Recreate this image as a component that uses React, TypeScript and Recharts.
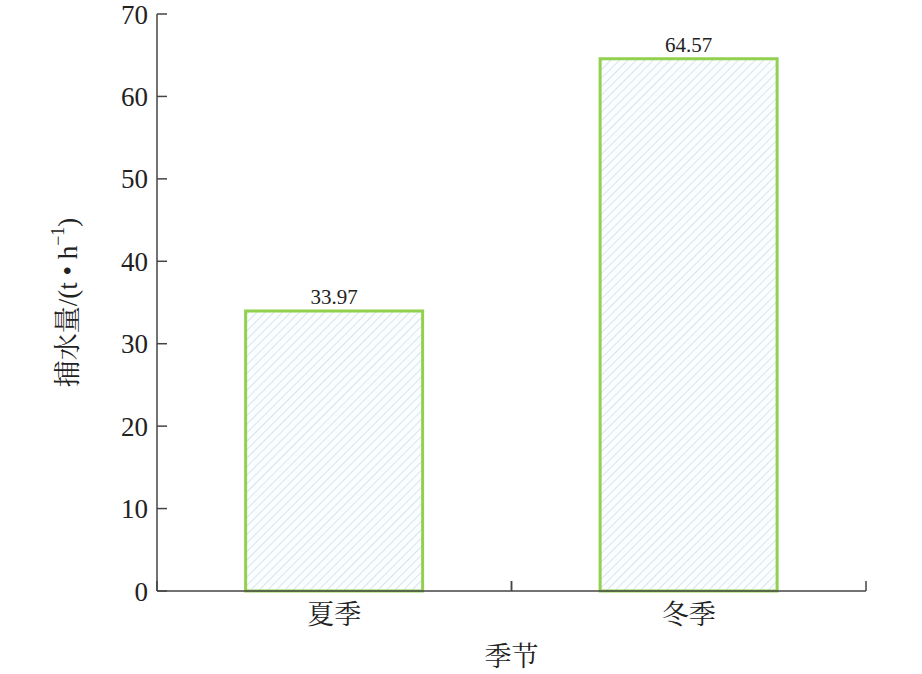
import React from "react";
import {
  BarChart,
  Bar,
  XAxis,
  YAxis,
  LabelList,
} from "recharts";

const seasons = ["夏季", "冬季"];
const intake = [33.97, 64.57];
const yTicks = [0, 10, 20, 30, 40, 50, 60, 70];

const data = seasons.map((season, i) => ({ season, value: intake[i] }));

const FONT = "'Liberation Serif', 'Noto Serif CJK SC', 'Noto Sans CJK SC', serif";
const AXIS = "#444";

const W = 922;
const H = 674;
const MARGIN = { top: 14, right: 56, bottom: 0, left: 0 };
const Y_AXIS_W = 157;
const TICK_GAP = 12;
const BAND = (W - MARGIN.right - MARGIN.left - Y_AXIS_W) / seasons.length;

const YLabel = (props: any) => {
  const vb = props.viewBox;
  const cx = 68;
  const cy = vb.y + vb.height / 2;
  return (
    <text
      x={cx}
      y={cy}
      transform={`rotate(-90, ${cx}, ${cy})`}
      textAnchor="middle"
      dominantBaseline="central"
      fontFamily={FONT}
      fontSize={27}
      fill="#222"
    >
      捕水量/(t • h
      <tspan fontSize={18} dy={-10}>−1</tspan>
      <tspan dy={10}>)</tspan>
    </text>
  );
};

// category label plus inward tick marks on the band edges
const SeasonTick = (props: any) => {
  const { x, y, payload } = props;
  const axisY = y - TICK_GAP;
  return (
    <g>
      <line x1={x - BAND / 2} x2={x - BAND / 2} y1={axisY} y2={axisY - 10} stroke={AXIS} strokeWidth={1.5} />
      <line x1={x + BAND / 2} x2={x + BAND / 2} y1={axisY} y2={axisY - 10} stroke={AXIS} strokeWidth={1.5} />
      <text
        x={x}
        y={y}
        dy={21}
        textAnchor="middle"
        fill="#222"
        fontSize={27}
        fontFamily={FONT}
      >
        {payload.value}
      </text>
    </g>
  );
};

export default function App() {
  return (
    <div style={{ position: "absolute", left: 0, top: 0 }}>
      <BarChart
        width={W}
        height={H}
        data={data}
        margin={MARGIN}
        barCategoryGap="25%"
      >
        <defs>
          <pattern
            id="hatch"
            width={6}
            height={6}
            patternUnits="userSpaceOnUse"
            patternTransform="rotate(45)"
          >
            <rect width={6} height={6} fill="#fbfdfe" />
            <line x1={0} y1={0} x2={0} y2={6} stroke="#bcd7e6" strokeWidth={1.2} />
          </pattern>
        </defs>
        <XAxis
          dataKey="season"
          height={83}
          tickLine={false}
          tickSize={0}
          tickMargin={TICK_GAP}
          axisLine={{ stroke: AXIS, strokeWidth: 1.5 }}
          tick={<SeasonTick />}
          label={{
            value: "季节",
            position: "insideBottom",
            offset: 8,
            fill: "#222",
            fontSize: 27,
            fontFamily: FONT,
          }}
        />
        <YAxis
          width={Y_AXIS_W}
          domain={[0, 70]}
          ticks={yTicks}
          interval={0}
          tickSize={-10}
          tickMargin={19}
          axisLine={{ stroke: AXIS, strokeWidth: 1.5 }}
          tickLine={{ stroke: AXIS, strokeWidth: 1.5 }}
          tick={{ fill: "#222", fontSize: 27, fontFamily: FONT }}
          label={<YLabel />}
        />
        <Bar
          dataKey="value"
          fill="url(#hatch)"
          stroke="#92d050"
          strokeWidth={3}
          isAnimationActive={false}
        >
          <LabelList
            dataKey="value"
            position="top"
            offset={7}
            fill="#222"
            fontSize={21}
            fontFamily={FONT}
          />
        </Bar>
      </BarChart>
    </div>
  );
}
